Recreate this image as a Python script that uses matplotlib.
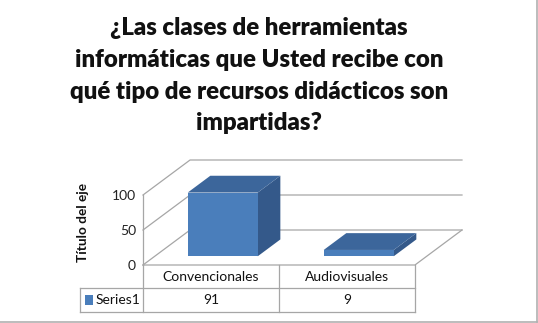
import matplotlib
matplotlib.use("Agg")
import matplotlib.pyplot as plt
from matplotlib.patches import Polygon, Rectangle
from matplotlib.lines import Line2D

categories = ["Convencionales", "Audiovisuales"]
values = [91, 9]
series_name = "Series1"
yticks = [0, 50, 100]
title_lines = ["¿Las clases de herramientas",
               "informáticas que Usted recibe con",
               "qué tipo de recursos didácticos son",
               "impartidas?"]
ylabel = "Título del eje"

FONT = "Lato"
W, H = 538, 323
fig = plt.figure(figsize=(W / 100, H / 100), dpi=100)

# axes: front plane x 0..2 (categories), y value; depth offset DX, DY
DX, DY = 0.346, 50.0
ax = fig.add_axes([143 / W, (H - 265) / H, 319 / W, 105 / H])
ax.set_xlim(0, 2 + DX)
ax.set_ylim(0, 150)
for s in ax.spines.values():
    s.set_visible(False)
ax.set_xticks([])
ax.set_yticks(yticks)
ax.set_yticklabels([str(t) for t in yticks], fontsize=10, fontfamily=FONT, color="#222222")
ax.tick_params(axis="y", length=0, pad=5)
ax.patch.set_alpha(0)

grid = "#a6a6a6"
lw = 0.9
n = len(categories)
ymax = yticks[-1]
# left wall front vertical
ax.add_line(Line2D([0, 0], [0, ymax], color=grid, lw=lw, clip_on=False))
for t in yticks:
    ax.add_line(Line2D([0, DX, n + DX], [t, t + DY, t + DY], color=grid, lw=lw, clip_on=False))
# floor
ax.add_line(Line2D([0, n, n + DX], [0, 0, DY], color=grid, lw=lw, clip_on=False))

# bars
d0, d1 = 0.25, 0.73
bw = 0.515
front_c, top_c, side_c = "#4a7ebb", "#3c669b", "#34598a"
for i, v in enumerate(values):
    xc = i + 0.5
    x0 = xc - bw / 2 + d0 * DX
    x1 = xc + bw / 2 + d0 * DX
    yb = d0 * DY
    yt = yb + v
    ox, oy = (d1 - d0) * DX, (d1 - d0) * DY
    ax.add_patch(Polygon([[x1, yb], [x1 + ox, yb + oy], [x1 + ox, yt + oy], [x1, yt]],
                         closed=True, facecolor=side_c, edgecolor="none", zorder=3))
    ax.add_patch(Polygon([[x0, yt], [x1, yt], [x1 + ox, yt + oy], [x0 + ox, yt + oy]],
                         closed=True, facecolor=top_c, edgecolor="none", zorder=3))
    ax.add_patch(Rectangle((x0, yb), x1 - x0, v, facecolor=front_c, edgecolor="none", zorder=4))

# data table below (in data units, unclipped)
r1, r2 = -32.9, -67.1
xl = (80 - 143) / 136
tc = "#a6a6a6"
ax.add_line(Line2D([xl, n], [r1, r1], color=tc, lw=lw, clip_on=False))
ax.add_line(Line2D([xl, n], [r2, r2], color=tc, lw=lw, clip_on=False))
ax.add_line(Line2D([xl, xl], [r1, r2], color=tc, lw=lw, clip_on=False))
for k in range(n + 1):
    ax.add_line(Line2D([k, k], [0, r2], color=tc, lw=lw, clip_on=False))
for i, c in enumerate(categories):
    ax.text(i + 0.5, r1 / 2, c, ha="center", va="center", fontsize=10,
            fontfamily=FONT, color="#111111", clip_on=False)
    ax.text(i + 0.5, (r1 + r2) / 2, str(values[i]), ha="center", va="center",
            fontsize=10, fontfamily=FONT, color="#111111", clip_on=False)
ax.add_patch(Rectangle((xl + 0.04, (r1 + r2) / 2 - 6.5), 0.055, 13, facecolor=front_c,
                       edgecolor="none", clip_on=False))
ax.text(xl + 0.115, (r1 + r2) / 2, series_name, ha="left", va="center", fontsize=10,
        fontfamily=FONT, color="#111111", clip_on=False)

# y label
fig.text(83 / W, 1 - 222 / H, ylabel, rotation=90, ha="center", va="center",
         fontsize=9.8, fontweight="bold", fontfamily=FONT, color="#111111")

# title
baselines = [35, 67, 99, 130]
for line, b in zip(title_lines, baselines):
    fig.text(259 / W, 1 - b / H, line, ha="center", va="baseline", fontsize=17.3,
             fontweight="heavy", fontfamily=FONT, color="#111111")

# frame shadow at right/bottom
fig.add_artist(Line2D([536.5 / W, 536.5 / W], [1.5 / H, 1], color="#b0b0b0", lw=1.2,
                      transform=fig.transFigure))
fig.add_artist(Line2D([0, 536.5 / W], [1.5 / H, 1.5 / H], color="#b0b0b0", lw=1.2,
                      transform=fig.transFigure))

fig.savefig("out.png", dpi=100, facecolor="white")
